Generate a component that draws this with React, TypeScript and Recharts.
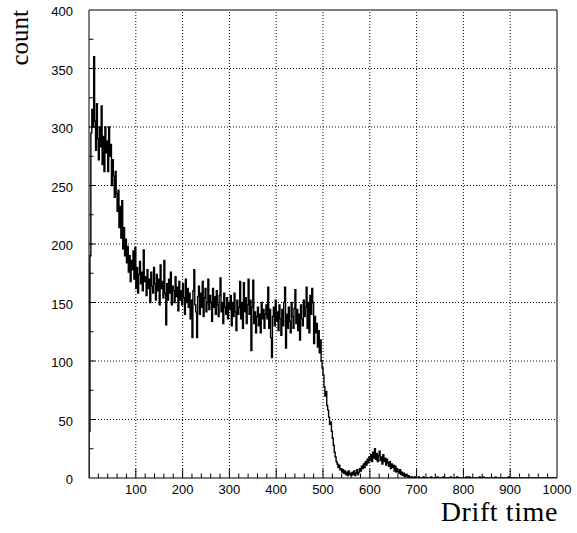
import { LineChart, Line, XAxis, YAxis, ReferenceLine } from "recharts";

// counts per 2-unit bin, drift time 0..700
const counts = [
  40, 190, 295, 315, 300, 360, 305, 280, 320, 290,
  272, 300, 283, 318, 268, 292, 262, 300, 278, 288,
  262, 300, 275, 285, 250, 272, 258, 240, 262, 243,
  228, 246, 214, 232, 205, 237, 196, 214, 190, 204,
  184, 198, 176, 190, 168, 186, 178, 194, 170, 197,
  162, 180, 158, 174, 185, 166, 176, 160, 195, 168,
  172, 156, 178, 162, 170, 150, 176, 164, 158, 180,
  166, 152, 174, 160, 170, 148, 182, 162, 168, 154,
  186, 158, 131, 166, 152, 170, 158, 176, 148, 164,
  160, 150, 172, 155, 163, 143, 168, 152, 160, 148,
  166, 154, 140, 170, 150, 162, 146, 158, 136, 152,
  120, 160, 178, 148, 142, 120, 155, 164, 140, 158,
  146, 168, 138, 154, 162, 142, 150, 170, 144, 156,
  150, 134, 162, 146, 155, 140, 160, 148, 138, 156,
  171, 142, 150, 132, 158, 146, 140, 154, 136, 150,
  144, 156, 130, 150, 138, 158, 142, 126, 152, 140,
  146, 168, 136, 150, 128, 167, 142, 154, 132, 148,
  170, 140, 152, 109, 146, 169, 132, 142, 124, 138,
  146, 130, 140, 124, 150, 136, 144, 128, 140, 148,
  136, 163, 128, 144, 120, 103, 138, 146, 130, 152,
  134, 142, 126, 148, 136, 122, 144, 130, 150, 163,
  111, 140, 128, 146, 134, 124, 150, 138, 128, 145,
  161, 132, 144, 126, 140, 118, 148, 136, 130, 152,
  138, 146, 163, 128, 150, 124, 156, 140, 162, 150,
  115, 138, 124, 132, 112, 126, 107, 118, 100, 94,
  88, 78, 70, 74, 62, 58, 52, 46, 48, 40,
  34, 28, 22, 18, 14, 12, 9, 11, 7, 8,
  5, 7, 4, 6, 3, 5, 2, 6, 3, 4,
  2, 5, 3, 6, 2, 4, 7, 3, 5, 8,
  6, 10, 8, 12, 9, 14, 11, 16, 13, 18,
  15, 20, 14, 22, 17, 25, 16, 21, 14, 19,
  23, 15, 18, 12, 20, 14, 17, 11, 16, 13,
  10, 14, 8, 12, 9, 11, 6, 10, 5, 8,
  6, 4, 7, 3, 5, 2, 4, 1, 3, 2,
  1, 2, 0, 1, 0, 1, 0, 0, 1, 0,
];

// 700..1000
const tail = [
  0, 0, 1, 0, 0, 0, 0, 1, 0, 0,
  0, 0, 0, 0, 0, 1, 0, 0, 0, 0,
  0, 0, 1, 0, 0, 0, 0, 0, 1, 0,
  0, 0, 0, 0, 0, 0, 1, 0, 0, 0,
  0, 0, 0, 1, 0, 0, 0, 0, 0, 0,
  0, 0, 0, 1, 0, 0, 1, 0, 0, 0,
  0, 0, 0, 0, 0, 0, 0, 1, 0, 0,
  0, 1, 0, 0, 0, 0, 0, 0, 0, 0,
  0, 0, 0, 0, 1, 0, 0, 0, 0, 0,
  0, 0, 0, 0, 0, 0, 0, 0, 1, 0,
  0, 0, 0, 0, 0, 0, 0, 0, 0, 0,
  0, 0, 0, 0, 0, 0, 0, 0, 0, 0,
  0, 0, 0, 0, 0, 0, 0, 0, 0, 0,
  0, 0, 0, 0, 0, 0, 0, 0, 0, 0,
  0, 0, 0, 0, 0, 0, 0, 0, 0, 0,
];

const BIN = 2;
const xMajor = [100, 200, 300, 400, 500, 600, 700, 800, 900, 1000];
const yMajor = [0, 50, 100, 150, 200, 250, 300, 350, 400];
const xGrid = [100, 200, 300, 400, 500, 600, 700, 800, 900];
const yGrid = [50, 100, 150, 200, 250, 300, 350];

const xTicks = Array.from({ length: 51 }, (_, i) => i * 20);
const yTicks = Array.from({ length: 17 }, (_, i) => i * 25);

const all = [...counts, ...tail];
const data = [
  { x: 0, y: 0 },
  ...all.map((c, i) => ({ x: i * BIN, y: c })),
  { x: 1000, y: all[all.length - 1] },
];

const labelFont = { fontFamily: "'Liberation Sans', Arial, sans-serif", fontSize: 13, fill: "#000" };

const XTick = (props: any) => {
  const { x, y, payload } = props;
  const v = payload.value;
  const major = xMajor.includes(v);
  return (
    <g>
      {v > 0 && v < 1000 && (
        <line x1={x} x2={x} y1={y} y2={y - (major ? 9 : 4.5)} stroke="#000" strokeWidth={1} />
      )}
      {major && (
        <text x={x} y={y + 16} textAnchor="middle" {...labelFont}>
          {v}
        </text>
      )}
    </g>
  );
};

const YTick = (props: any) => {
  const { x, y, payload } = props;
  const v = payload.value;
  const major = yMajor.includes(v);
  return (
    <g>
      {v > 0 && v < 400 && (
        <line x1={x} x2={x + (major ? 6 : 4.5)} y1={y} y2={y} stroke="#000" strokeWidth={1} />
      )}
      {major && (
        <text x={x - 16} y={y + 6} textAnchor="end" {...labelFont}>
          {v}
        </text>
      )}
    </g>
  );
};

export default function App() {
  return (
    <div style={{ position: "absolute", left: 0, top: 0, width: 577, height: 533, background: "#fff" }}>
      <LineChart
        width={577}
        height={533}
        data={data}
        margin={{ top: 10, right: 20, bottom: 54, left: 88 }}
      >
        {xGrid.map((v) => (
          <ReferenceLine key={"gx" + v} x={v} stroke="#000" strokeDasharray="1 2" />
        ))}
        {yGrid.map((v) => (
          <ReferenceLine key={"gy" + v} y={v} stroke="#000" strokeDasharray="1 2" />
        ))}
        <ReferenceLine x={1000} stroke="#000" />
        <ReferenceLine y={400} stroke="#000" />
        <XAxis
          type="number"
          dataKey="x"
          domain={[0, 1000]}
          ticks={xTicks}
          interval={0}
          height={1}
          tickLine={false}
          tickSize={0}
          tickMargin={0}
          axisLine={{ stroke: "#000" }}
          tick={(p: any) => <XTick {...p} />}
          allowDataOverflow
        />
        <YAxis
          type="number"
          domain={[0, 400]}
          ticks={yTicks}
          interval={0}
          width={1}
          tickLine={false}
          tickSize={0}
          tickMargin={0}
          axisLine={{ stroke: "#000" }}
          tick={(p: any) => <YTick {...p} />}
          allowDataOverflow
        />
        <Line
          type="stepAfter"
          dataKey="y"
          stroke="#000"
          strokeWidth={1.4}
          dot={false}
          isAnimationActive={false}
        />
      </LineChart>
      <svg
        width={577}
        height={533}
        style={{ position: "absolute", left: 0, top: 0, pointerEvents: "none" }}
      >
        <text
          x={0}
          y={0}
          transform="translate(28,10) rotate(-90)"
          textAnchor="end"
          fontFamily="'Liberation Serif', 'Times New Roman', serif"
          fontSize={25}
          fill="#000"
        >
          count
        </text>
        <text
          x={558}
          y={521}
          textAnchor="end"
          fontFamily="'Liberation Serif', 'Times New Roman', serif"
          fontSize={28}
          letterSpacing={0.6}
          fill="#000"
        >
          Drift time
        </text>
      </svg>
    </div>
  );
}
